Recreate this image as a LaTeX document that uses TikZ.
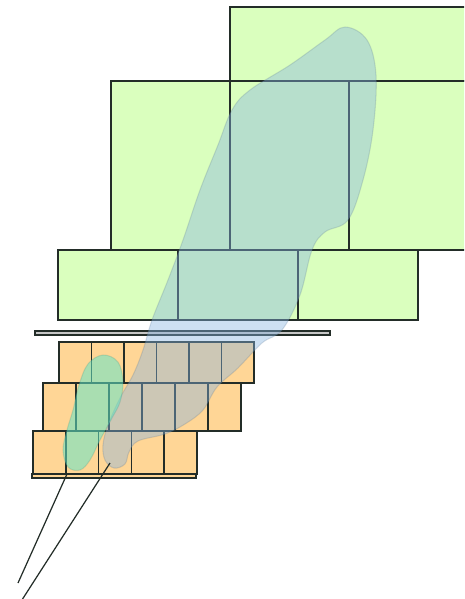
\documentclass[tikz,border=0pt]{standalone}
\usetikzlibrary{positioning}
\definecolor{leaf}{RGB}{218,255,190}
\definecolor{sand}{RGB}{255,214,150}
\definecolor{sky}{RGB}{135,180,225}
\definecolor{mint}{RGB}{100,230,200}
\definecolor{edge}{RGB}{35,45,40}

\begin{document}
\begin{tikzpicture}[x=0.02cm,y=-0.02cm,line width=0.8pt,
  block/.style={draw=edge,fill=leaf},
  tile/.style={draw=edge,fill=sand},
  blob/.style={fill=#1,fill opacity=0.42,draw=#1!60!black,draw opacity=0.2,line width=0.6pt}]
\useasboundingbox (0,0) rectangle (464,599);
\clip (0,0) rectangle (464,599);
% upper blocks
\draw[block] (230,7) rectangle (480,81);
\foreach \x in {111,230,349} \draw[block] (\x,81) rectangle ++(119,169);
\foreach \x in {58,178,298} \draw[block] (\x,250) rectangle ++(120,70);
\draw[draw=edge,fill=gray!45,line width=0.6pt] (35,331) rectangle (330,335);
% lower tiles
\foreach \i in {0,...,5} \draw[tile] (59+32.5*\i,342) rectangle ++(32.5,41);
\foreach \i in {0,...,5} \draw[tile] (43+33*\i,383) rectangle ++(33,48);
\foreach \i in {0,...,4} \draw[tile] (33+32.8*\i,431) rectangle ++(32.8,43);
\draw[tile,line width=0.6pt] (32,474) rectangle (196,478);
% blobs
\draw[blob=sky] plot[smooth cycle,tension=0.6] coordinates {
  (345,27) (367,40) (376,75) (373,130) (363,180) (348,220) (325,232)
  (312,250) (300,295) (282,330) (262,343) (238,368) (217,387) (203,410)
  (185,424) (165,434) (138,441) (129,452) (125,464) (114,468) (105,460)
  (103,445) (108,425) (120,398) (133,375) (143,350) (152,320) (168,280)
  (183,240) (200,190) (218,145) (232,110) (250,90) (290,65) (325,40)};
\draw[blob=mint,fill opacity=0.55] plot[smooth cycle,tension=0.6] coordinates {
  (103,355) (118,362) (123,382) (120,402) (112,418) (100,440) (90,460)
  (80,470) (68,467) (63,450) (67,430) (73,410) (79,385) (88,364)};
% pointer lines
\coordinate (a1) at (67,474);
\coordinate (a2) at (110,463);
\coordinate (b1) at (18,583);
\coordinate (b2) at (20,603);
\draw[edge,line width=0.7pt] (a1) -- (b1);
\draw[edge,line width=0.7pt] (a2) -- (b2);
\end{tikzpicture}
\end{document}
